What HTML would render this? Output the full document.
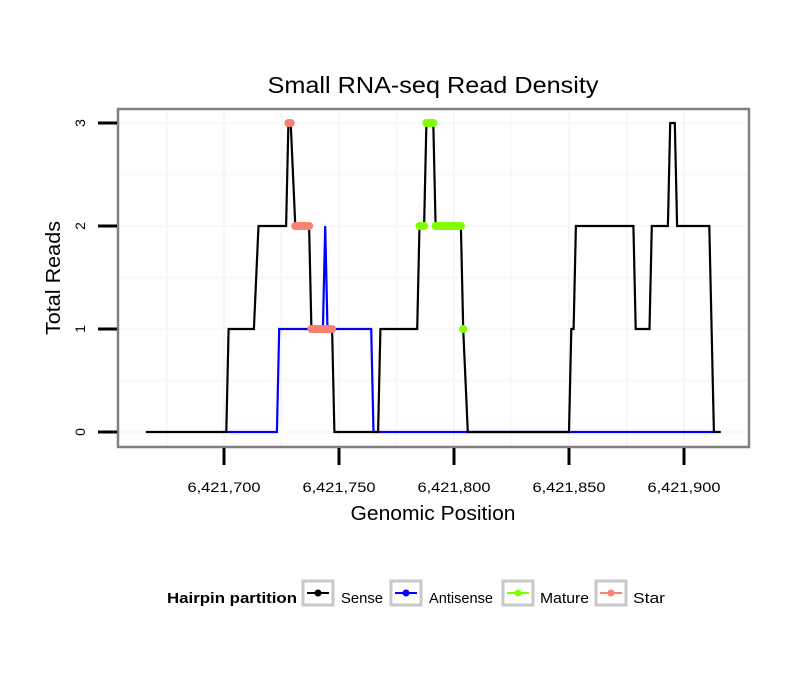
<!DOCTYPE html>
<html><head><meta charset="utf-8"><style>
body{margin:0;background:#fff;}
svg{display:block;font-family:"Liberation Sans",sans-serif;}
</style></head><body>
<svg id="chart" width="810" height="690" viewBox="0 0 810 690">
<text x="433" y="93" font-size="23" text-anchor="middle" textLength="331" lengthAdjust="spacingAndGlyphs">Small RNA-seq Read Density</text>
<g id="grid"></g>
<g id="series"></g>
<rect x="118" y="109" width="631" height="338" fill="none" stroke="#808080" stroke-width="2.5"/>
<g id="axes"></g>
<text x="0" y="0" transform="translate(60,278) rotate(-90)" font-size="20" text-anchor="middle" textLength="114" lengthAdjust="spacingAndGlyphs">Total Reads</text>
<text x="433" y="520" font-size="20" text-anchor="middle" textLength="165" lengthAdjust="spacingAndGlyphs">Genomic Position</text>
<g>
<text x="167" y="603" font-size="15" font-weight="bold" textLength="130" lengthAdjust="spacingAndGlyphs">Hairpin partition</text>
<g>
<rect x="303" y="581" width="30" height="24" fill="#fff" stroke="#c8c8c8" stroke-width="3"/>
<line x1="307" y1="593" x2="329" y2="593" stroke="#000" stroke-width="2"/><circle cx="318" cy="593" r="3.5" fill="#000"/>
<text x="341" y="603" font-size="15" textLength="42" lengthAdjust="spacingAndGlyphs">Sense</text></g>
<g>
<rect x="391" y="581" width="30" height="24" fill="#fff" stroke="#c8c8c8" stroke-width="3"/>
<line x1="395" y1="593" x2="417" y2="593" stroke="#0000ff" stroke-width="2"/><circle cx="406" cy="593" r="3.5" fill="#0000ff"/>
<text x="429" y="603" font-size="15" textLength="64" lengthAdjust="spacingAndGlyphs">Antisense</text></g>
<g>
<rect x="503" y="581" width="30" height="24" fill="#fff" stroke="#c8c8c8" stroke-width="3"/>
<line x1="507" y1="593" x2="529" y2="593" stroke="#7fff00" stroke-width="2"/><circle cx="518" cy="593" r="3.5" fill="#7fff00"/>
<text x="540" y="603" font-size="15" textLength="49" lengthAdjust="spacingAndGlyphs">Mature</text></g>
<g>
<rect x="596" y="581" width="30" height="24" fill="#fff" stroke="#c8c8c8" stroke-width="3"/>
<line x1="600" y1="593" x2="622" y2="593" stroke="#fa8072" stroke-width="2"/><circle cx="611" cy="593" r="3.5" fill="#fa8072"/>
<text x="633" y="603" font-size="15" textLength="32" lengthAdjust="spacingAndGlyphs">Star</text></g>
</g>
</svg>
<script>
// positions are offsets from 6,421,700
const BASE = 6421700;
const xTicks = [6421700, 6421750, 6421800, 6421850, 6421900];
const xTickLabels = ["6,421,700", "6,421,750", "6,421,800", "6,421,850", "6,421,900"];
const yTicks = [0, 1, 2, 3];
const senseX = [-34, 1, 2, 13, 15, 27, 28, 29, 31, 37, 38, 47, 48, 67, 68, 84, 85, 87, 88, 91, 92, 103, 104, 106, 150, 151, 152, 153, 178, 179, 185, 186, 193, 194, 196, 197, 211, 213, 216];
const senseY = [0, 0, 1, 1, 2, 2, 3, 3, 2, 2, 1, 1, 0, 0, 1, 1, 2, 2, 3, 3, 2, 2, 1, 0, 0, 1, 1, 2, 2, 1, 1, 2, 2, 3, 3, 2, 2, 0, 0];
const antiX = [1, 23, 24, 43, 44, 45, 64, 65, 213];
const antiY = [0, 0, 1, 1, 2, 1, 1, 0, 0];
const matureX = [85, 86, 87, 88, 89, 90, 91, 92, 93, 94, 95, 96, 97, 98, 99, 100, 101, 102, 103, 104];
const matureY = [2, 2, 2, 3, 3, 3, 3, 2, 2, 2, 2, 2, 2, 2, 2, 2, 2, 2, 2, 1];
const starX = [28, 29, 31, 32, 33, 34, 35, 36, 37, 38, 39, 40, 41, 42, 43, 44, 45, 46, 47];
const starY = [3, 3, 2, 2, 2, 2, 2, 2, 2, 1, 1, 1, 1, 1, 1, 1, 1, 1, 1];

const NS = "http://www.w3.org/2000/svg";
const sx = v => 224 + (v - BASE) * 2.3;
const so = o => sx(BASE + o);
const sy = v => 432 - v * 103;
function mk(tag, attrs, parent) {
  const e = document.createElementNS(NS, tag);
  for (const k in attrs) e.setAttribute(k, attrs[k]);
  parent.appendChild(e);
  return e;
}
const grid = document.getElementById('grid');
const axes = document.getElementById('axes');
const series = document.getElementById('series');
for (let i = 0; i < yTicks.length; i++) {
  for (const v of [yTicks[i], yTicks[i] + 0.5]) {
    if (sy(v) < 110) continue;
    const l = mk('line', {x1: 119, x2: 748, y1: sy(v), y2: sy(v), stroke: '#f7f7f7', 'stroke-width': v % 1 ? 2 : 1.5}, grid);
    
    
  }
}
for (let i = 0; i < xTicks.length; i++) {
  for (const v of [xTicks[i] - 25, xTicks[i]]) {
    const l = mk('line', {x1: sx(v), x2: sx(v), y1: 110, y2: 446, stroke: '#f7f7f7', 'stroke-width': 2}, grid);
    
    
  }
}
xTicks.forEach((v, i) => {
  const t = mk('line', {x1: sx(v), x2: sx(v), y1: 448, y2: 465, stroke: '#000', 'stroke-width': 3}, axes);
  
  
  const lb = mk('text', {x: sx(v), y: 492, 'font-size': 14, 'text-anchor': 'middle', textLength: 73, lengthAdjust: 'spacingAndGlyphs'}, axes);
  lb.textContent = xTickLabels[i];
  
  
});
yTicks.forEach(v => {
  const t = mk('line', {x1: 98, x2: 117, y1: sy(v), y2: sy(v), stroke: '#000', 'stroke-width': 3}, axes);
  
  
  const lb = mk('text', {x: 0, y: 0, transform: `translate(85,${sy(v)}) rotate(-90)`, 'font-size': 14, 'text-anchor': 'middle'}, axes);
  lb.textContent = v;
  
  
});
function line(xs, ys, color, name) {
  const p = mk('polyline', {points: xs.map((x, i) => so(x) + ',' + sy(ys[i])).join(' '), fill: 'none', stroke: color, 'stroke-width': 2.2}, series);
  
  
}
line(antiX, antiY, '#0000ff', 'antisense-line');
line(senseX, senseY, '#000000', 'sense-line');
function dots(xs, ys, color, name) {
  xs.forEach((x, i) => {
    const c = mk('circle', {cx: so(x), cy: sy(ys[i]), r: 4, fill: color}, series);
    
    
  });
}
dots(starX, starY, '#fa8072', 'star-point');
dots(matureX, matureY, '#7fff00', 'mature-point');
</script>
</body></html>
